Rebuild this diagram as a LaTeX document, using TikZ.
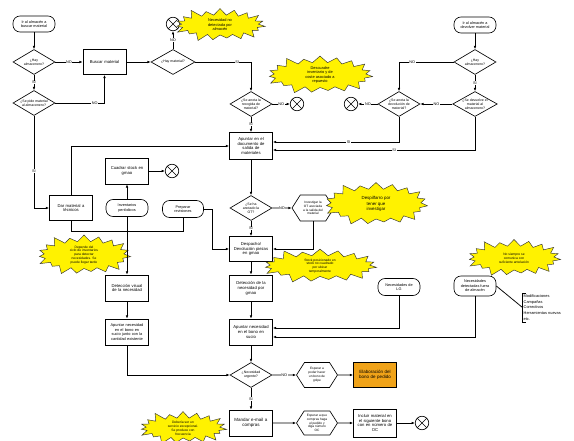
\documentclass[tikz,border=0pt]{standalone}
\usepackage{fontspec}
\setmainfont{Liberation Sans}
\usetikzlibrary{shapes.geometric,shapes.symbols,shapes.misc,arrows.meta,calc}
\definecolor{orng}{RGB}{240,163,25}
\hyphenpenalty=10000
\exhyphenpenalty=10000
\begin{document}
\begin{tikzpicture}[x=1pt,y=-1pt,
 every node/.style={font=\fontsize{3.6}{4.3}\selectfont},
 box/.style={draw, line width=0.75pt, fill=white, minimum width=43pt, minimum height=25pt, text width=41pt, align=center, inner sep=1pt, font=\fontsize{4.2}{4.9}\selectfont},
 term/.style={draw, line width=0.65pt, rounded corners=7pt, minimum width=42pt, minimum height=16pt, align=center, inner sep=0.5pt, font=\fontsize{3.8}{4.5}\selectfont},
 dec/.style={diamond, draw, line width=0.65pt, shape aspect=1.8, inner sep=0pt, align=center, minimum width=42pt, minimum height=25pt, font=\fontsize{3.5}{4.1}\selectfont},
 hexa/.style={signal, signal to=east and west, signal pointer angle=115, draw, line width=0.65pt, minimum width=42pt, minimum height=26pt, align=center, inner sep=0.5pt, font=\fontsize{3.2}{3.9}\selectfont},
 endx/.style={circle, draw, line width=0.65pt, minimum size=13.5pt, inner sep=0pt, path picture={\draw[line width=0.65pt] (path picture bounding box.north west) -- (path picture bounding box.south east) (path picture bounding box.north east) -- (path picture bounding box.south west);}},
 burst/.style={starburst, starburst points=19, starburst point height=9pt, draw=black!80, line width=0.45pt, fill=yellow, align=center, inner sep=0pt, font=\fontsize{3.9}{4.6}\selectfont},
 flow/.style={line width=0.75pt, -{Latex[length=3.2pt,width=2.6pt]}},
 link/.style={line width=0.75pt},
 lbl/.style={fill=white, inner sep=0.6pt, font=\fontsize{3.8}{4.2}\selectfont},
]
\useasboundingbox (0,0) rectangle (574,441);
\fill[white] (0,0) rectangle (574,441);

% ---------- top left ----------
\node[term] (term1) at (34,24) {Ir al almacén a\\buscar material};
\node[dec] (dia1) at (34,62) {¿Hay\\almacenero?};
\node[dec] (dia2) at (34,103) {¿Se pide material\\al almacenero?};
\node[box] (buscar) at (104.5,62) {Buscar material};
\node[dec, minimum width=44pt] (hmat) at (173,62) {¿Hay material?};
\node[endx] (xa) at (173,24) {};
\node[burst, minimum width=95pt, minimum height=38pt] (star1) at (220,25) {Necesidad no\\detectada por\\almacén};
\node[dec] (dsal) at (251,104) {¿Se anota la\\recogida de\\material?};
\node[endx] (xb) at (297,104) {};
\node[burst, minimum width=110pt, minimum height=43pt] (star2) at (320,75) {Descuadre\\inventario y de\\coste asociado a\\repuesto};

% ---------- top right ----------
\node[term] (term2) at (475,25) {Ir al almacén a\\devolver material};
\node[dec] (dia3) at (475,62) {¿Hay\\almacenero?};
\node[dec] (dia5) at (475,104) {¿Se devuelve el\\material al\\almacenero?};
\node[dec] (dia4) at (399,104) {¿Se anota la\\devolución de\\material?};
\node[endx] (xd) at (351,104) {};

% ---------- middle ----------
\node[box, minimum height=27pt] (apuntar) at (251,146) {Apuntar en el\\documento de\\salida de\\materiales};
\node[box] (dar) at (71,208) {Dar material a\\técnicos};
\node[box, minimum height=26pt] (cuadrar) at (127,171) {Cuadrar stock en\\gmao};
\node[endx] (xc) at (172,171) {};
\node[term, minimum height=17pt] (inv) at (127,208) {Inventarios\\periódicos};
\node[term, minimum width=41pt, minimum height=17pt] (prep) at (183,209) {Preparar\\revisiones};
\node[dec] (ot) at (251,208) {¿Se ha\\anotado la\\OT?};
\node[hexa] (invest) at (313,208) {Investigar la\\OT asociada\\a la salida del\\material};
\node[burst, minimum width=108pt, minimum height=48pt, font=\fontsize{4.4}{5.2}\selectfont] (star3) at (376,204) {Despilfarro por\\tener que\\investigar};
\node[box] (despacho) at (251,249) {Despacho/\\Devolución piezas\\en gmao};
\node[burst, minimum width=118pt, minimum height=35pt, font=\fontsize{3.3}{3.9}\selectfont] (star4) at (320,266) {Stock posicionado en\\stock no cuadrado\\por ubicar\\temporalmente};
\node[burst, minimum width=98pt, minimum height=45pt, font=\fontsize{3.3}{3.9}\selectfont] (star5) at (84,255) {Depende del\\ciclo de inventarios\\para detectar\\necesidades. Se\\puede llegar tarde};
\node[box, minimum height=26pt] (detvis) at (127,288) {Detección visual\\de la necesidad};
\node[box, minimum height=26pt] (detg) at (251,288) {Detección de la\\necesidad por\\gmao};
\node[box, minimum height=26pt, font=\fontsize{3.9}{4.6}\selectfont] (apsucio) at (127,332) {Apuntar necesidad\\en el bono en\\sucio junto con la\\cantidad existente};
\node[box, minimum height=26pt] (apnec) at (251,332) {Apuntar necesidad\\en el bono en\\sucio};
\node[term, minimum height=17pt] (lg) at (399,287) {Necesidades de\\LG};
\node[term, minimum height=20pt] (fuera) at (475,286) {Necesidades\\detectadas fuera\\de almacén};
\node[burst, minimum width=98pt, minimum height=42pt, font=\fontsize{3.3}{3.9}\selectfont] (star6) at (514,258) {No siempre se\\comunica con\\suficiente antelación};
\node[anchor=west, align=left, inner sep=1pt, font=\fontsize{3.9}{5.8}\selectfont] (lista) at (522.5,307.5) {Modificaciones\\Campañas\\Correctivos\\Herramientas nuevas\\etc.};

% ---------- bottom ----------
\node[dec] (urg) at (251,375) {¿Necesidad\\urgente?};
\node[hexa, minimum width=41pt, minimum height=25pt] (esp1) at (317,375) {Esperar a\\poder hacer\\un bono de\\golpe};
\node[box, fill=orng, font=\fontsize{4.5}{5.2}\selectfont] (elab) at (375,375) {Elaboración del\\bono de pedido};
\node[box, minimum height=26pt, font=\fontsize{4.5}{5.2}\selectfont] (mandar) at (251,423) {Mandar e-mail a\\compras};
\node[hexa, minimum width=41pt, minimum height=24pt] (esp2) at (317,423) {Esperar a que\\compras haga\\el pedido y\\diga número\\OC};
\node[box, minimum height=28pt] (incluir) at (375,423) {Incluir material en\\el siguiente bono\\con en número de\\OC};
\node[endx] (xe) at (422,423) {};
\node[burst, minimum width=92pt, minimum height=38pt, font=\fontsize{3.3}{3.9}\selectfont] (star7) at (183,428) {Debería ser un\\servicio excepcional.\\Se produce con\\frecuencia};

% ---------- helper coordinates ----------
\coordinate (k1) at (212,249);
\coordinate (k2) at (300,142);
\coordinate (k3) at (300,150);
\coordinate (k4) at (183,231);
\coordinate (k5) at (300,328);
\coordinate (k6) at (300,337);
\coordinate (b1) at (522.5,293);
\coordinate (b2) at (522.5,322);

% ---------- connectors ----------
\draw[flow] (term1) -- (dia1);
\draw[flow] (dia1) -- node[lbl]{NO} (buscar);
\draw[flow] (dia1) -- node[lbl]{SI} (dia2);
\draw[flow] (dia2.east) -| node[lbl, pos=0.4]{NO} (buscar.south);
\draw[flow] (dia2.south) |- node[lbl, pos=0.3]{SI} (dar.west);
\draw[flow] (buscar) -- (hmat);
\draw[flow] (hmat) -- node[lbl]{NO} (xa);
\draw[flow] (hmat.east) -| node[lbl, pos=0.375]{SI} (dsal.north);
\draw[flow] (dsal) -- node[lbl]{NO} (xb);
\draw[flow] (dsal) -- node[lbl]{SI} (apuntar);

\draw[flow] (term2) -- (dia3);
\draw[flow] (dia3.west) -| node[lbl, pos=0.38]{NO} (dia4.north);
\draw[flow] (dia3) -- node[lbl]{SI} (dia5);
\draw[flow] (dia5) -- node[lbl]{NO} (dia4);
\draw[flow] (dia4) -- node[lbl]{NO} (xd);
\draw[flow] (dia4.south) |- node[lbl, pos=0.7]{SI} (apuntar.east |- k2);
\draw[flow] (dia5.south) |- node[lbl, pos=0.7]{SI} (apuntar.east |- k3);

\draw[flow] (dar.north) |- (apuntar.west);
\draw[link] (dar.south) |- (k4) -- (prep.south);
\draw[flow] (cuadrar) -- (xc);
\draw[flow] (inv) -- (cuadrar);
\draw[flow] (inv) -- (detvis);
\draw[flow] (prep.east) -| (k1) -- (despacho.west);

\draw[flow] (apuntar) -- (ot);
\draw[flow] (ot) -- node[lbl]{NO} (invest);
\draw[flow] (invest.south) |- (despacho.east);
\draw[flow] (ot) -- node[lbl]{SI} (despacho);
\draw[flow] (despacho) -- (detg);
\draw[flow] (detg) -- (apnec);
\draw[flow] (detvis) -- (apsucio);
\draw[flow] (lg.south) |- (apnec.east |- k5);
\draw[flow] (fuera.south) |- (apnec.east |- k6);
\draw[link] (fuera.east) -- ($(b1)!0.5!(b2)$);
\draw[link] ([xshift=3pt]b1) -- (b1) -- (b2) -- ([xshift=3pt]b2);

\draw[flow] (apsucio.south) |- (urg.west);
\draw[flow] (apnec) -- (urg);
\draw[flow] (urg) -- node[lbl]{NO} (esp1);
\draw[flow] (esp1) -- (elab);
\draw[flow] (urg) -- node[lbl]{SI} (mandar);
\draw[flow] (mandar) -- (esp2);
\draw[flow] (esp2) -- (incluir);
\draw[flow] (incluir) -- (xe);
\end{tikzpicture}
\end{document}
